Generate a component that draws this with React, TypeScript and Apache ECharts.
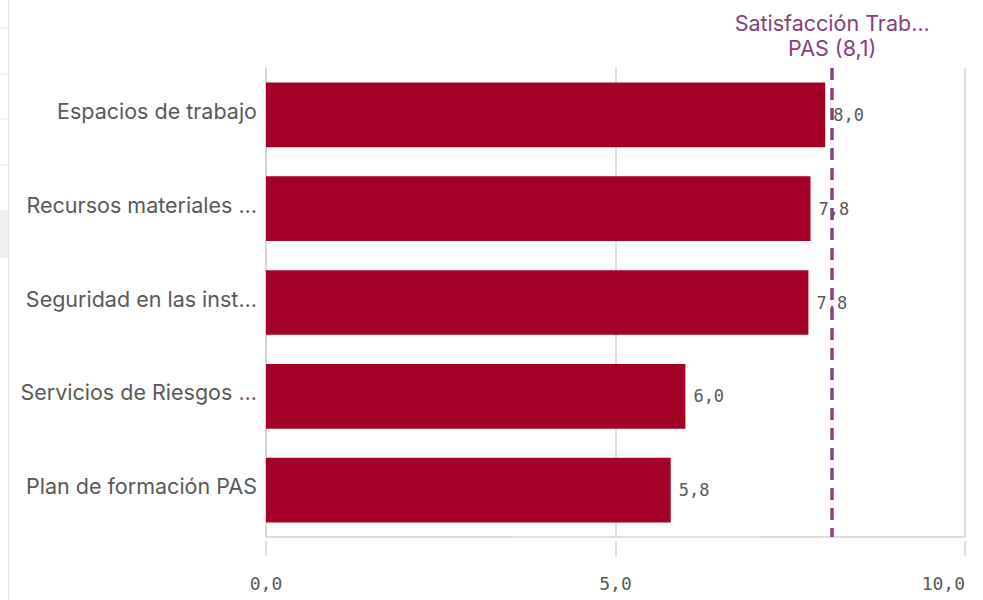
import React, { useEffect, useRef } from "react";
import * as echarts from "echarts";

const categories = [
  "Espacios de trabajo",
  "Recursos materiales ...",
  "Seguridad en las inst...",
  "Servicios de Riesgos ...",
  "Plan de formación PAS",
];
const values = [8.0, 7.79, 7.76, 6.0, 5.79];
const referenceValue = 8.1;
const referenceLabel = "Satisfacción Trab...\nPAS (8,1)";
const xTicks = [0, 5, 10];

const fmt = (v: number) => v.toFixed(1).replace(".", ",");

export default function App() {
  const ref = useRef<HTMLDivElement>(null);
  useEffect(() => {
    document.body.style.margin = "0";
    const chart = echarts.init(ref.current!, null, { renderer: "svg" });
    const gray = "#595959";
    const lineGray = "#d4d4d4";
    chart.setOption({
      animation: false,
      backgroundColor: "#fff",
      grid: { left: 266, right: 18, top: 68, bottom: 63, containLabel: false },
      xAxis: [
        {
          type: "value",
          min: xTicks[0],
          max: xTicks[xTicks.length - 1],
          interval: 5,
          offset: 4,
          axisLine: { show: false },
          axisTick: { show: true, length: 15, lineStyle: { color: lineGray, width: 1.5 } },
          axisLabel: {
            margin: 33,
            color: gray,
            fontFamily: "DejaVu Sans Mono",
            fontSize: 18,
            formatter: (v: number) => fmt(v),
            alignMaxLabel: "right",
          },
          splitLine: { show: true, lineStyle: { color: lineGray, width: 1.5 } },
        },
        {
          type: "value",
          position: "bottom",
          min: xTicks[0],
          max: xTicks[xTicks.length - 1],
          interval: 5,
          axisLine: { show: true, lineStyle: { color: lineGray, width: 1.5 } },
          axisTick: { show: false },
          axisLabel: { show: false },
          splitLine: { show: false },
        },
      ],
      yAxis: {
        type: "category",
        data: categories,
        inverse: true,
        axisLine: { show: true, lineStyle: { color: lineGray, width: 1.5 } },
        axisTick: { show: false },
        axisLabel: {
          color: gray,
          fontFamily: "Inter",
          fontSize: 21.5,
          margin: 9,
          verticalAlign: "bottom",
          lineHeight: 8,
        },
      },
      series: [
        {
          type: "bar",
          data: values,
          barWidth: "69%",
          itemStyle: { color: "#a50026" },
          label: {
            show: true,
            position: "right",
            distance: 8,
            color: gray,
            fontFamily: "DejaVu Sans Mono",
            fontSize: 17,
            padding: [3, 0, 0, 0],
            formatter: (p: any) => fmt(p.value),
          },
          markLine: {
            silent: true,
            symbol: "none",
            lineStyle: { color: "#86417c", width: 3.5, type: [12, 8] },
            label: {
              show: true,
              position: "start",
              formatter: referenceLabel,
              color: "#86417c",
              fontFamily: "Inter",
              fontSize: 21.5,
              lineHeight: 25,
              distance: 8,
            },
            data: [{ xAxis: referenceValue }],
          },
        },
      ],
      graphic: [
        { type: "line", shape: { x1: 8.5, y1: 0, x2: 8.5, y2: 600 }, style: { stroke: "#e6e6e6", lineWidth: 1 } },
        { type: "line", shape: { x1: 0, y1: 28, x2: 8, y2: 28 }, style: { stroke: "#e6e6e6", lineWidth: 1 } },
        { type: "line", shape: { x1: 0, y1: 74, x2: 8, y2: 74 }, style: { stroke: "#e6e6e6", lineWidth: 1 } },
        { type: "line", shape: { x1: 0, y1: 119, x2: 8, y2: 119 }, style: { stroke: "#e6e6e6", lineWidth: 1 } },
        { type: "line", shape: { x1: 0, y1: 165, x2: 8, y2: 165 }, style: { stroke: "#e6e6e6", lineWidth: 1 } },
        { type: "rect", shape: { x: 0, y: 210, width: 8, height: 48 }, style: { fill: "#f0f0f0" } },
      ],
    });
    return () => chart.dispose();
  }, []);
  return <div ref={ref} style={{ width: 983, height: 600 }} />;
}
